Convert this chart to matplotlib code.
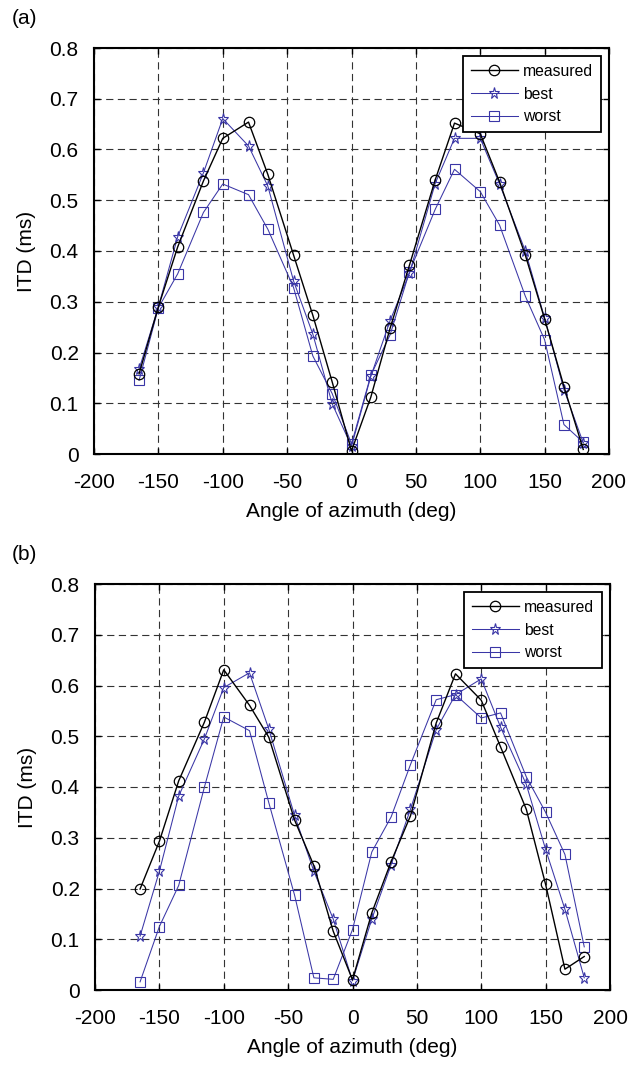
import numpy as np
import matplotlib
matplotlib.use("Agg")
import matplotlib.pyplot as plt

plt.rcParams['font.family'] = ['Liberation Sans', 'DejaVu Sans']

angles = [-165, -150, -135, -115, -100, -80, -65, -45, -30, -15, 0,
          15, 30, 45, 65, 80, 100, 115, 135, 150, 165, 180]

# panel (a)
meas_a = [0.158, 0.290, 0.408, 0.538, 0.622, 0.654, 0.551, 0.392, 0.273, 0.142, 0.006,
          0.112, 0.248, 0.372, 0.540, 0.652, 0.631, 0.536, 0.392, 0.266, 0.133, 0.009]
best_a = [0.167, 0.290, 0.428, 0.554, 0.661, 0.607, 0.528, 0.341, 0.236, 0.099, 0.015,
          0.153, 0.263, 0.356, 0.533, 0.622, 0.622, 0.532, 0.400, 0.268, 0.127, 0.022]
worst_a = [0.145, 0.288, 0.355, 0.476, 0.532, 0.511, 0.443, 0.328, 0.193, 0.119, 0.020,
           0.155, 0.235, 0.359, 0.482, 0.561, 0.517, 0.451, 0.311, 0.225, 0.058, 0.023]

# panel (b)
meas_b = [0.199, 0.293, 0.412, 0.528, 0.631, 0.561, 0.498, 0.335, 0.245, 0.116, 0.020,
          0.152, 0.253, 0.343, 0.526, 0.623, 0.571, 0.479, 0.356, 0.208, 0.041, 0.066]
best_b = [0.106, 0.234, 0.382, 0.495, 0.596, 0.625, 0.514, 0.344, 0.234, 0.140, 0.018,
          0.140, 0.247, 0.356, 0.513, 0.582, 0.613, 0.518, 0.405, 0.277, 0.159, 0.024]
worst_b = [0.016, 0.125, 0.206, 0.400, 0.538, 0.511, 0.369, 0.187, 0.024, 0.021, 0.119,
           0.272, 0.341, 0.444, 0.572, 0.582, 0.536, 0.546, 0.420, 0.350, 0.267, 0.085]

panels = [("(a)", meas_a, best_a, worst_a), ("(b)", meas_b, best_b, worst_b)]

W, H = 629, 1065
fig = plt.figure(figsize=(W / 100, H / 100), dpi=100)

# axes boxes in pixels: left, top, right, bottom
boxes = [(94, 48, 609, 454), (95, 584, 610, 990)]

blue = '#3a36a6'

for (tag, meas, best, worst), (l, t, r, b) in zip(panels, boxes):
    ax = fig.add_axes([l / W, 1 - b / H, (r - l) / W, (b - t) / H])
    ax.plot(angles, meas, color='black', lw=1.0, marker='o', ms=7.5,
            mfc='none', mec='black', mew=0.9, label='measured', zorder=4)
    ax.plot(angles, best, color=blue, lw=0.75, marker='*', ms=8.3,
            mfc='none', mec=blue, mew=0.8, label='best', zorder=3)
    ax.plot(angles, worst, color=blue, lw=0.75, marker='s', ms=7.2,
            mfc='none', mec=blue, mew=0.8, label='worst', zorder=3)
    ax.set_xlim(-200, 200)
    ax.set_ylim(0, 0.8)
    ax.set_xticks(np.arange(-200, 201, 50))
    ax.set_yticks(np.arange(0, 0.81, 0.1))
    ax.set_xticklabels([str(v) for v in range(-200, 201, 50)])
    ax.set_yticklabels(['0'] + ['%.1f' % v for v in np.arange(0.1, 0.81, 0.1)])
    ax.grid(True, color='#333333', ls=(0, (6.5, 4)), lw=0.8)
    ax.tick_params(direction='in', length=4, width=1, labelsize=15,
                   top=True, right=True, color='black')
    ax.tick_params(axis='x', pad=14)
    ax.tick_params(axis='y', pad=11)
    for s in ax.spines.values():
        s.set_linewidth(1.5)
    ax.set_xlabel('Angle of azimuth (deg)', fontsize=15, labelpad=7)
    ax.set_ylabel('ITD (ms)', fontsize=15, labelpad=10)
    leg = ax.legend(loc='upper right', fontsize=11.3, frameon=True, fancybox=False,
                    edgecolor='black', framealpha=1, handlelength=3.0,
                    borderaxespad=0.5, labelspacing=0.5, borderpad=0.5,
                    handletextpad=0.35)
    leg.get_frame().set_linewidth(1.3)
    fig.text(12 / W, 1 - (t - 29) / H, tag, fontsize=15, va='center', ha='left')

fig.savefig('out.png', dpi=100)
